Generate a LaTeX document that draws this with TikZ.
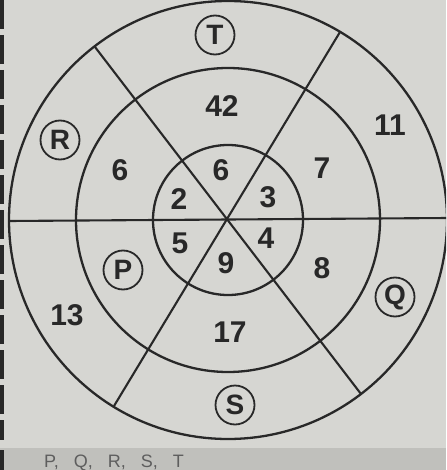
\documentclass[tikz,border=0pt]{standalone}
\usepackage{fontspec}
\setmainfont{Liberation Sans}
\definecolor{paper}{RGB}{214,214,210}
\definecolor{band}{RGB}{192,192,188}
\definecolor{ink}{RGB}{40,40,40}
\tikzset{
  num/.style={text=ink, font=\fontsize{30}{32}\selectfont\bfseries, inner sep=0pt},
  tag/.style={circle, draw=ink, line width=1.8pt, text=ink, minimum size=39pt, inner sep=0pt, font=\fontsize{28}{30}\selectfont\bfseries},
  ring/.style={draw=ink, line width=2.3pt},
  spoke/.style={draw=ink, line width=2.1pt},
}
\begin{document}
\begin{tikzpicture}[x=1pt,y=-1pt]
\useasboundingbox (0,0) rectangle (446,470);
\clip (0,0) rectangle (446,470);
\fill[paper] (0,0) rectangle (446,470);
\fill[band] (0,448) rectangle (446,470);
\draw[ink, line width=4pt, dash pattern=on 29pt off 6pt] (2,0) -- (2,440);
\draw[ink, line width=4pt] (2,450) -- (2,470);
% centre and spoke ends
\coordinate (c) at (228,220);
\coordinate (hl) at (9,221);
\coordinate (hr) at (448,218);
\coordinate (a1) at (95,47);
\coordinate (a2) at (361,394);
\coordinate (b1) at (340,32);
\coordinate (b2) at (114,406);
% rings
\draw[ring] (c) circle (219);
\draw[ring] (c) circle (152);
\draw[ring] (c) circle (75);
% spokes
\draw[spoke] (hl) -- (hr);
\draw[spoke] (a1) -- (a2);
\draw[spoke] (b1) -- (b2);
% circled letters
\node[tag] (T) at (215,35) {T};
\node[tag] (R) at (60,140) {R};
\node[tag] (P) at (123,270) {P};
\node[tag] (Q) at (395,297) {Q};
\node[tag] (S) at (235,405) {S};
% numbers
\node[num] (n42) at (222,106) {42};
\node[num] (n11) at (390,125) {11};
\node[num] (n6a) at (120,170) {6};
\node[num] (n7) at (322,168) {7};
\node[num] (n6b) at (221,170) {6};
\node[num] (n2) at (179,199) {2};
\node[num] (n3) at (268,197) {3};
\node[num] (n5) at (180,243) {5};
\node[num] (n4) at (266,238) {4};
\node[num] (n9) at (226,263) {9};
\node[num] (n8) at (322,268) {8};
\node[num] (n13) at (67,315) {13};
\node[num] (n17) at (230,332) {17};
% caption strip at the bottom
\node[text=ink!75, font=\fontsize{18}{19}\selectfont, anchor=base west, inner sep=0pt] (cap) at (44,467) {P,\hspace{15pt}Q,\hspace{15pt}R,\hspace{15pt}S,\hspace{15pt}T};
\end{tikzpicture}
\end{document}
